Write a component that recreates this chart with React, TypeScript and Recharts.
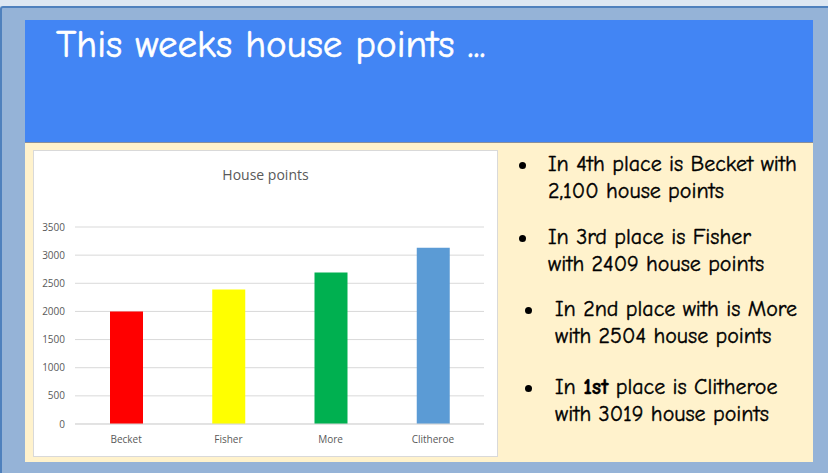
import React from "react";
import { BarChart, Bar, XAxis, YAxis, CartesianGrid, Cell } from "recharts";

const houses = ["Becket", "Fisher", "More", "Clitheroe"];
const points = [2000, 2390, 2690, 3130];
const barColors = ["#ff0000", "#ffff00", "#00b050", "#5b9bd5"];
const yTicks = [0, 500, 1000, 1500, 2000, 2500, 3000, 3500];

const bulletLines: { lines: React.ReactNode[]; top: number; dotX: number; textX: number }[] = [
  { lines: ["In 4th place is Becket with", "2,100 house points"], top: 151, dotX: 522, textX: 548 },
  { lines: ["In 3rd place is Fisher", "with 2409 house points"], top: 224, dotX: 522, textX: 548 },
  { lines: ["In 2nd place with is More", "with 2504 house points"], top: 296, dotX: 528, textX: 555 },
  {
    lines: [
      <span key="a">In <b>1st</b> place is Clitheroe</span>,
      "with 3019 house points",
    ],
    top: 374,
    dotX: 528,
    textX: 555,
  },
];

const data = houses.map((h, i) => ({ name: h, value: points[i] }));

const casual = '"Comic Sans MS", "Comic Neue", "Open Sans", sans-serif';

export default function App() {
  return (
    <div style={{ position: "absolute", left: 0, top: 0, width: 828, height: 473, background: "#dde7f2", overflow: "hidden" }}>
      <div
        style={{
          position: "absolute",
          left: 0,
          top: 6,
          width: 828,
          height: 467,
          background: "#95b3d7",
          borderLeft: "2px solid #4f81bd",
          borderTop: "2px solid #4f81bd",
          borderTopLeftRadius: 3,
          boxSizing: "border-box",
        }}
      />
      <div style={{ position: "absolute", left: 25, top: 20, width: 788, height: 122, background: "#4285f4" }} />
      <div style={{ position: "absolute", left: 25, top: 142, width: 788, height: 1, background: "#8a8f99" }} />
      <div style={{ position: "absolute", left: 25, top: 143, width: 788, height: 319, background: "#fff2cc" }} />
      <div
        style={{
          position: "absolute",
          left: 56,
          top: 18,
          color: "#ffffff",
          fontFamily: casual,
          fontSize: 39,
          lineHeight: "54px",
          whiteSpace: "nowrap",
          WebkitTextStroke: "0.6px #ffffff",
        }}
      >
        This weeks house points ...
      </div>

      <div
        style={{
          position: "absolute",
          left: 33,
          top: 150,
          width: 465,
          height: 307,
          background: "#ffffff",
          border: "1px solid #d9d9d9",
          boxSizing: "border-box",
        }}
      >
        <div
          style={{
            position: "absolute",
            left: 0,
            top: 14,
            width: 463,
            textAlign: "center",
            fontFamily: '"Open Sans", sans-serif',
            fontSize: 14,
            color: "#595959",
          }}
        >
          House points
        </div>
        <div style={{ position: "absolute", left: -1, top: -1 }}>
          <BarChart width={465} height={307} data={data} margin={{ top: 77, right: 14, bottom: 0, left: 0 }}>
            <CartesianGrid vertical={false} stroke="#d9d9d9" />
            <XAxis
              dataKey="name"
              axisLine={{ stroke: "#d9d9d9" }}
              tickLine={false}
              height={33}
              tickMargin={6}
              tick={{ fill: "#595959", fontSize: 10, fontFamily: '"Open Sans", sans-serif' }}
            />
            <YAxis
              width={42}
              domain={[0, 3500]}
              ticks={yTicks}
              axisLine={false}
              tickLine={false}
              tickMargin={4}
              tick={{ fill: "#595959", fontSize: 10, fontFamily: '"Open Sans", sans-serif' }}
            />
            <Bar dataKey="value" barSize={33} isAnimationActive={false}>
              {data.map((d, i) => (
                <Cell key={d.name} fill={barColors[i]} />
              ))}
            </Bar>
          </BarChart>
        </div>
      </div>

      {bulletLines.map((b, i) => (
        <React.Fragment key={i}>
          <div
            style={{
              position: "absolute",
              left: b.dotX - 3,
              top: b.top + 11,
              width: 7,
              height: 7,
              borderRadius: 4,
              background: "#000",
            }}
          />
          <div
            style={{
              position: "absolute",
              left: b.textX,
              top: b.top,
              fontFamily: casual,
              fontSize: 22,
              lineHeight: "27px",
              color: "#000",
              whiteSpace: "nowrap",
              WebkitTextStroke: "0.4px #000",
            }}
          >
            {b.lines.map((l, j) => (
              <div key={j}>{l}</div>
            ))}
          </div>
        </React.Fragment>
      ))}
    </div>
  );
}
